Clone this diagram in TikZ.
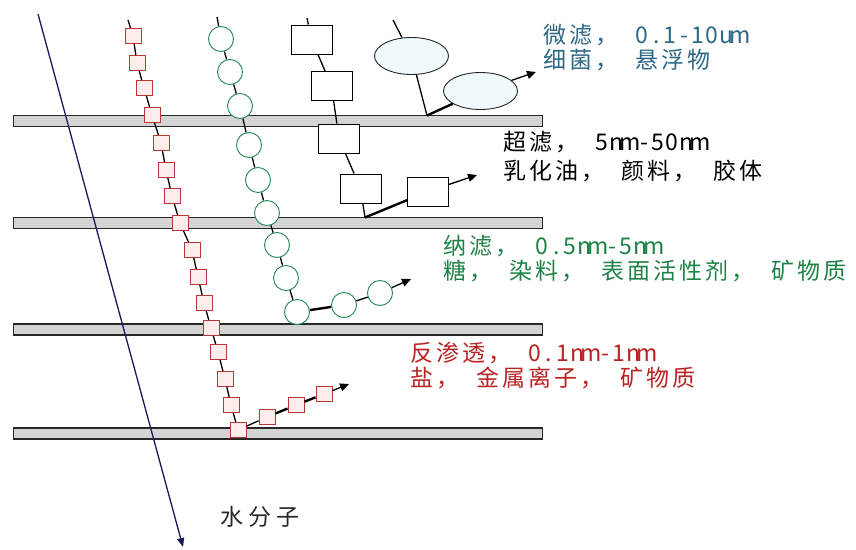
\documentclass[tikz,border=0pt]{standalone}
\usepackage{fontspec}
\newfontfamily\cjk{Noto Sans CJK SC}
\usetikzlibrary{shapes.geometric,arrows.meta}
\definecolor{barfill}{RGB}{212,212,212}
\definecolor{barline}{RGB}{40,40,40}
\definecolor{rosq}{RGB}{185,55,55}
\definecolor{rofill}{RGB}{255,236,236}
\definecolor{nfc}{RGB}{35,135,85}
\definecolor{mfc}{RGB}{45,105,135}
\definecolor{water}{RGB}{25,25,95}
\definecolor{ellfill}{RGB}{240,250,253}
\definecolor{rotext}{RGB}{185,35,35}
\definecolor{nftext}{RGB}{30,130,70}
\definecolor{wtext}{RGB}{40,40,40}
\newlength\cjkpitch \setlength\cjkpitch{26pt}
\newlength\latpitch \setlength\latpitch{14pt}
\newlength\commagap \setlength\commagap{14pt}
\makeatletter
\def\spaced#1{\spaced@loop#1\spaced@end}
\def\spaced@end{\spaced@end}
\def\spaced@loop#1{\ifx#1\spaced@end\else\spaced@char{#1}\expandafter\spaced@loop\fi}
\def\spaced@char#1{\ifnum`#1>255 \makebox[\cjkpitch][l]{#1}\ifnum`#1=`， \hspace{\commagap}\fi\else\makebox[\latpitch][c]{#1}\fi}
\makeatother
\tikzset{
  membrane/.style={rectangle, draw=barline, fill=barfill, line width=1.2pt, minimum width=529pt, minimum height=11pt, inner sep=0pt, anchor=west},
  rosqr/.style={rectangle, draw=rosq, fill=rofill, line width=0.9pt, minimum width=16pt, minimum height=15pt, inner sep=0pt},
  nfcirc/.style={circle, draw=nfc, fill=white, line width=0.9pt, minimum size=25pt, inner sep=0pt},
  ufbox/.style={rectangle, draw=black, fill=white, line width=0.9pt, minimum width=41pt, minimum height=29pt, inner sep=0pt},
  mfell/.style={ellipse, draw=black!85, fill=ellfill, line width=0.9pt, minimum width=74pt, minimum height=37pt, inner sep=0pt},
  link/.style={draw=black, line width=1.3pt},
  thicklink/.style={draw=black, line width=2.4pt},
  outarrow/.style={draw=black, line width=1.3pt, -{Triangle[length=9pt,width=8pt]}},
  waterarrow/.style={draw=water, line width=1.3pt, -{Triangle[length=9pt,width=7pt]}},
  lbl/.style={anchor=west, inner sep=0pt, font=\cjk\fontsize{23}{23}\selectfont}
}
\begin{document}
\begin{tikzpicture}[x=1pt,y=-1pt]
\fill[white] (0,0) rectangle (856,549);
\useasboundingbox (0,0) rectangle (856,549);
% membranes
\node[membrane] (bar1) at (13,121) {};
\node[membrane] (bar2) at (13,223) {};
\node[membrane] (bar3) at (13,329.5) {};
\node[membrane] (bar4) at (13,433.5) {};
% water molecules
\coordinate (wstart) at (38,14);
\coordinate (wend) at (183,547);
\draw[waterarrow] (wstart) -- (wend);
\node[lbl, font=\cjk\fontsize{23}{23}\selectfont, text=wtext] (wlabel) at (220,517) {\setlength\cjkpitch{28pt}\spaced{水分子}};
% reverse osmosis chain
\coordinate (rstart) at (128,20);
\node[rosqr] (r1) at (133,36) {};
\node[rosqr] (r2) at (137,63) {};
\node[rosqr] (r3) at (144,88) {};
\node[rosqr] (r4) at (152,115) {};
\node[rosqr] (r5) at (161,143) {};
\node[rosqr] (r6) at (166,170) {};
\node[rosqr] (r7) at (172,196) {};
\node[rosqr] (r8) at (180,223) {};
\node[rosqr] (r9) at (192,250) {};
\node[rosqr] (r10) at (198,277) {};
\node[rosqr] (r11) at (204,303) {};
\node[rosqr] (r12) at (211,328) {};
\node[rosqr] (r13) at (218,352) {};
\node[rosqr] (r14) at (225,379) {};
\node[rosqr] (r15) at (231,405) {};
\node[rosqr] (r16) at (238,430) {};
\node[rosqr] (rh1) at (267,417) {};
\node[rosqr] (rh2) at (296,405) {};
\node[rosqr] (rh3) at (324,394) {};
\coordinate (rtip) at (349,384);
\draw[link] (rstart) -- (r1);
\foreach \a/\b in {r1/r2,r2/r3,r3/r4,r4/r5,r5/r6,r6/r7,r7/r8,r8/r9,r9/r10,r10/r11,r11/r12,r12/r13,r13/r14,r14/r15,r15/r16,r16/rh1}
  \draw[link] (\a) -- (\b);
\draw[thicklink] (rh1) -- (rh2);
\draw[thicklink] (rh2) -- (rh3);
\draw[outarrow] (rh3) -- (rtip);
% nanofiltration chain
\coordinate (gstart) at (217,17);
\node[nfcirc] (g1) at (221,39) {};
\node[nfcirc] (g2) at (230,72) {};
\node[nfcirc] (g3) at (240,106) {};
\node[nfcirc] (g4) at (249,145) {};
\node[nfcirc] (g5) at (258,180) {};
\node[nfcirc] (g6) at (267,213) {};
\node[nfcirc] (g7) at (277,245) {};
\node[nfcirc] (g8) at (286,278) {};
\node[nfcirc] (g9) at (297,312) {};
\node[nfcirc] (gh1) at (344,305) {};
\node[nfcirc] (gh2) at (380,293) {};
\coordinate (gtip) at (411,279);
\draw[link] (gstart) -- (g1);
\foreach \a/\b in {g1/g2,g2/g3,g3/g4,g4/g5,g5/g6,g6/g7,g7/g8,g8/g9}
  \draw[link] (\a) -- (\b);
\draw[thicklink] (g9) -- (gh1);
\draw[link] (gh1) -- (gh2);
\draw[outarrow] (gh2) -- (gtip);
% ultrafiltration chain
\coordinate (bstart) at (307,18);
\node[ufbox] (b1) at (311.5,39.5) {};
\node[ufbox] (b2) at (331.5,86) {};
\node[ufbox] (b3) at (339,138.5) {};
\node[ufbox] (b4) at (360.5,188.5) {};
\node[ufbox] (b5) at (428,191.5) {};
\coordinate (k2) at (365,217.5);
\coordinate (btip) at (477,175);
\draw[link] (bstart) -- (b1);
\draw[link] (b1) -- (b2);
\draw[link] (b2) -- (b3);
\draw[link] (b3) -- (b4);
\draw[link] (b4) -- (k2);
\draw[thicklink] (k2) -- (b5);
\draw[outarrow] (b5) -- (btip);
% microfiltration chain
\coordinate (estart) at (393,20);
\node[mfell] (e1) at (411.5,56) {};
\node[mfell] (e2) at (480.5,91) {};
\coordinate (k1) at (427,115.5);
\coordinate (etip) at (536,72);
\draw[link] (estart) -- (e1);
\draw[link] (e1) -- (k1);
\draw[thicklink] (k1) -- (e2);
\draw[outarrow] (e2) -- (etip);
% labels
\node[lbl, text=mfc] (mf1) at (543,35) {\spaced{微滤，0.1-10um}};
\node[lbl, text=mfc] (mf2) at (543,60) {\spaced{细菌，悬浮物}};
\node[lbl, text=black] (uf1) at (503,142) {\spaced{超滤，5nm-50nm}};
\node[lbl, text=black] (uf2) at (503,171) {\spaced{乳化油，颜料，胶体}};
\node[lbl, text=nftext] (nf1) at (443,246) {\spaced{纳滤，0.5nm-5nm}};
\node[lbl, text=nftext] (nf2) at (443,271) {\spaced{糖，染料，表面活性剂，矿物质}};
\node[lbl, text=rotext] (ro1) at (410,353) {\spaced{反渗透，0.1nm-1nm}};
\node[lbl, text=rotext] (ro2) at (410,378) {\spaced{盐，金属离子，矿物质}};
\end{tikzpicture}
\end{document}
